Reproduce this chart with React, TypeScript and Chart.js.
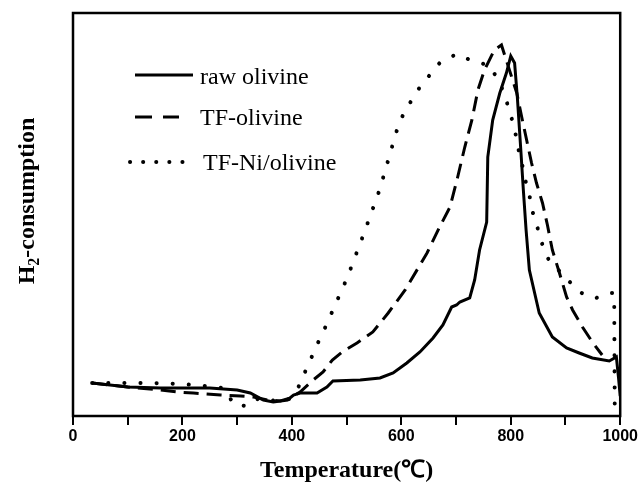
import { useEffect, useRef } from 'react';
import { Chart, registerables } from 'chart.js';

Chart.register(...registerables);

// ---- data (temperature in °C, H2 consumption in arbitrary units) ----
const seriesLabels = ['raw olivine', 'TF-olivine', 'TF-Ni/olivine'];

const rawTemps = [35, 100, 160, 250, 300, 324, 348, 366, 392, 403, 415, 446, 464, 475, 525, 561, 585, 610, 634, 658, 676, 692, 701, 707, 725, 734, 743, 756, 758, 767, 780, 792, 800, 807, 812, 818, 823, 828, 834, 852, 876, 902, 925, 949, 980, 993, 997, 1000];
const rawValues = [33, 29, 28, 28, 26, 23, 16, 14, 16, 21, 23, 23, 29, 35, 36, 38, 43, 53, 64, 78, 91, 109, 111, 114, 118, 136, 166, 194, 259, 296, 323, 343, 360, 353, 319, 269, 226, 186, 146, 103, 79, 68, 63, 58, 55, 59, 38, 20];

const tfTemps = [35, 100, 160, 191, 220, 270, 306, 330, 355, 379, 397, 415, 439, 457, 474, 492, 519, 548, 576, 607, 647, 670, 689, 703, 716, 729, 740, 752, 770, 783, 811, 820, 829, 838, 847, 858, 867, 876, 889, 902, 913, 931, 949, 967];
const tfValues = [33, 29, 26, 24, 23, 21, 20, 19, 16, 15, 18, 24, 36, 44, 56, 64, 73, 84, 103, 126, 163, 189, 209, 239, 269, 296, 326, 346, 366, 371, 323, 299, 276, 253, 233, 213, 191, 166, 143, 119, 106, 89, 74, 61];

const niTemps = [35, 100, 145, 200, 240, 275, 295, 320, 340, 370, 395, 412, 424, 437, 450, 463, 475, 488, 501, 512, 523, 534, 545, 556, 565, 574, 583, 592, 603, 619, 634, 652, 670, 701, 730, 758, 776, 789, 798, 807, 812, 820, 825, 834, 840, 849, 858, 871, 893, 913, 934, 956, 980, 989, 990];
const niValues = [33, 33, 33, 32, 30, 28, 11, 10, 18, 15, 17, 29, 44, 60, 76, 91, 106, 122, 138, 154, 170, 186, 203, 219, 235, 252, 269, 286, 301, 316, 329, 341, 353, 362, 355, 351, 338, 321, 304, 288, 271, 254, 239, 221, 204, 188, 171, 154, 143, 131, 121, 118, 123, 123, 11];

const xMin = 0;
const xMax = 1000;
const xTickStep = 100;
const xTickLabels = [0, 200, 400, 600, 800, 1000];
const yMax = 403;

const xTitle = 'Temperature(℃)';
const yTitleMain = 'H';
const yTitleSub = '2';
const yTitleRest = '-consumption';

const toPoints = (xs: number[], ys: number[]) => xs.map((x, i) => ({ x, y: ys[i] }));

const SERIF = '"Liberation Serif", "Times New Roman", serif';
const SANS = '"Liberation Sans", Arial, sans-serif';

const framePlugin = {
  id: 'frame',
  afterDatasetsDraw(chart: any) {
    const { ctx, chartArea: a } = chart;
    ctx.save();
    ctx.strokeStyle = '#000';
    ctx.lineWidth = 2.5;
    ctx.strokeRect(a.left, a.top, a.right - a.left, a.bottom - a.top);
    ctx.restore();
  },
};

const annotationPlugin = {
  id: 'annotations',
  afterDraw(chart: any) {
    const { ctx, chartArea: a } = chart;
    ctx.save();
    ctx.fillStyle = '#000';
    ctx.strokeStyle = '#000';

    // x axis title
    ctx.font = `bold 24px ${SERIF}`;
    ctx.textAlign = 'center';
    ctx.textBaseline = 'alphabetic';
    ctx.fillText(xTitle, (a.left + a.right) / 2, 477);

    // y axis title with subscript
    ctx.save();
    ctx.translate(34, 201);
    ctx.rotate(-Math.PI / 2);
    ctx.textAlign = 'left';
    const big = `bold 24px ${SERIF}`;
    const small = `bold 16px ${SERIF}`;
    ctx.font = big;
    const w1 = ctx.measureText(yTitleMain).width;
    const w3 = ctx.measureText(yTitleRest).width;
    ctx.font = small;
    const w2 = ctx.measureText(yTitleSub).width;
    const x0 = -(w1 + w2 + w3) / 2;
    ctx.font = big;
    ctx.fillText(yTitleMain, x0, 0);
    ctx.font = small;
    ctx.fillText(yTitleSub, x0 + w1, 5);
    ctx.font = big;
    ctx.fillText(yTitleRest, x0 + w1 + w2, 0);
    ctx.restore();

    // legend
    const ds = chart.data.datasets;
    const rows = [
      { y: 75, x1: 135, x2: 193, tx: 200, ty: 84 },
      { y: 117, x1: 135, x2: 179, tx: 200, ty: 125 },
      { y: 162, x1: 130, x2: 185, tx: 203, ty: 170 },
    ];
    rows.forEach((r, i) => {
      const d = ds[i];
      ctx.save();
      ctx.lineWidth = i === 2 ? 4 : 3;
      ctx.lineCap = i === 2 ? 'round' : 'butt';
      ctx.setLineDash(i === 0 ? [] : i === 1 ? [17, 11] : [0.1, 13]);
      ctx.beginPath();
      ctx.moveTo(r.x1, r.y);
      ctx.lineTo(r.x2, r.y);
      ctx.stroke();
      ctx.restore();
      ctx.font = `24px ${SERIF}`;
      ctx.textAlign = 'left';
      ctx.textBaseline = 'alphabetic';
      ctx.fillText(d.label, r.tx, r.ty);
    });
    ctx.restore();
  },
};

export default function App() {
  const canvasRef = useRef<HTMLCanvasElement | null>(null);

  useEffect(() => {
    const canvas = canvasRef.current;
    if (!canvas) return;
    const chart = new Chart(canvas, {
      type: 'line',
      data: {
        datasets: [
          {
            label: seriesLabels[0],
            data: toPoints(rawTemps, rawValues),
            borderColor: '#000',
            borderWidth: 3,
            pointRadius: 0,
            tension: 0,
            fill: false,
          },
          {
            label: seriesLabels[1],
            data: toPoints(tfTemps, tfValues),
            borderColor: '#000',
            borderWidth: 3,
            borderDash: [15, 8],
            pointRadius: 0,
            tension: 0,
            fill: false,
          },
          {
            label: seriesLabels[2],
            data: toPoints(niTemps, niValues),
            borderColor: '#000',
            borderWidth: 4,
            borderDash: [0.1, 16],
            borderCapStyle: 'round',
            pointRadius: 0,
            tension: 0,
            fill: false,
          },
        ],
      },
      options: {
        animation: false,
        responsive: false,
        devicePixelRatio: 1,
        layout: { padding: { top: 13, right: 19, bottom: 0, left: 0 } },
        plugins: {
          legend: { display: false },
          tooltip: { enabled: false },
          title: { display: false },
        },
        scales: {
          x: {
            type: 'linear',
            min: xMin,
            max: xMax,
            afterFit: (s: any) => {
              s.height = 70;
            },
            border: { display: false },
            grid: {
              drawOnChartArea: false,
              drawTicks: true,
              tickLength: 9,
              color: '#000',
              lineWidth: 2,
            },
            ticks: {
              stepSize: xTickStep,
              autoSkip: false,
              maxRotation: 0,
              padding: 2,
              color: '#000',
              font: { family: SANS, size: 16, weight: 'bold' },
              callback: (v: any) => (xTickLabels.includes(Number(v)) ? String(v) : ''),
            },
          },
          y: {
            type: 'linear',
            min: 0,
            max: yMax,
            afterFit: (s: any) => {
              s.width = 73;
            },
            border: { display: false },
            grid: { display: false },
            ticks: { display: false },
          },
        },
      } as any,
      plugins: [framePlugin, annotationPlugin],
    });
    return () => chart.destroy();
  }, []);

  return (
    <div style={{ position: 'absolute', left: 0, top: 0, width: 640, height: 486, background: '#fff' }}>
      <canvas ref={canvasRef} width={640} height={486} style={{ display: 'block' }} />
    </div>
  );
}
